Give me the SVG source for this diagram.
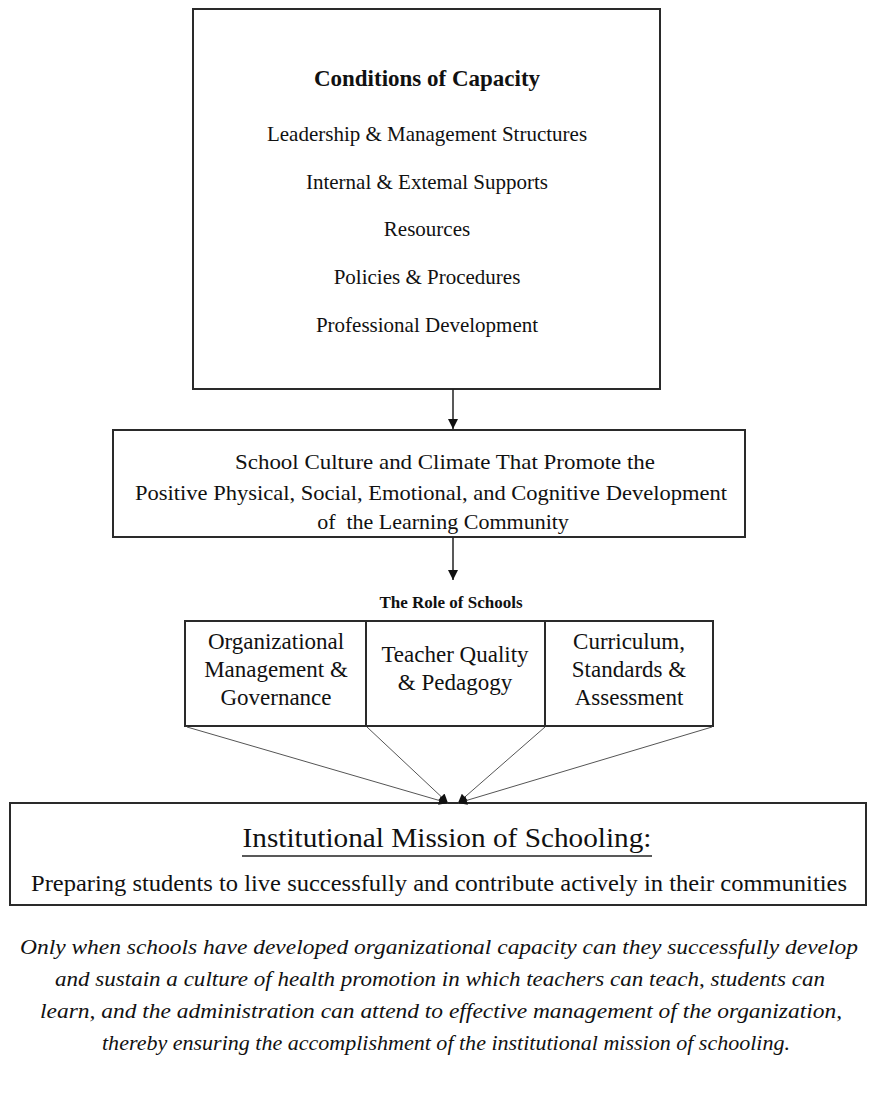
<svg xmlns="http://www.w3.org/2000/svg" width="878" height="1093" viewBox="0 0 878 1093">
<defs>
<style>
.box{fill:#fff;stroke:#2a2a2a;stroke-width:2}
.t{font-family:"Liberation Serif","Times New Roman",serif;fill:#111;text-anchor:middle}
.b{font-weight:bold}
.it{font-style:italic}
.conn{stroke:#555;stroke-width:1;fill:none}
.arr{stroke:#222;stroke-width:1.5;fill:none}
</style>
<marker id="ah" viewBox="0 0 10 10" refX="10" refY="5" markerWidth="12" markerHeight="10" markerUnits="userSpaceOnUse" orient="auto">
<path d="M0,0 L10,5 L0,10 z" fill="#111"/>
</marker>
<marker id="ah2" viewBox="0 0 10 10" refX="10" refY="5" markerWidth="14" markerHeight="9" markerUnits="userSpaceOnUse" orient="auto">
<path d="M0,0 L10,5 L0,10 z" fill="#111"/>
</marker>
</defs>
<rect width="878" height="1093" fill="#fff"/>

<g id="conditions">
<rect class="box" x="193" y="9" width="467" height="380"/>
<text class="t b" x="427" y="86" font-size="23">Conditions of Capacity</text>
<text class="t" x="427" y="141" font-size="21">Leadership &amp; Management Structures</text>
<text class="t" x="427" y="189" font-size="21">Internal &amp; Extemal Supports</text>
<text class="t" x="427" y="236" font-size="21">Resources</text>
<text class="t" x="427" y="284" font-size="21">Policies &amp; Procedures</text>
<text class="t" x="427" y="332" font-size="21">Professional Development</text>
</g>

<g id="culture">
<rect class="box" x="113" y="430" width="632" height="107"/>
<text class="t" x="445" y="469" font-size="22" textLength="420" lengthAdjust="spacingAndGlyphs">School Culture and Climate That Promote the</text>
<text class="t" x="431" y="500" font-size="22" textLength="592" lengthAdjust="spacingAndGlyphs">Positive Physical, Social, Emotional, and Cognitive Development</text>
<text class="t" x="443" y="529" font-size="22" xml:space="preserve">of  the Learning Community</text>
</g>

<g id="role-label">
<text class="t b" x="451" y="608" font-size="17">The Role of Schools</text>
</g>

<g id="org">
<rect class="box" x="185" y="621" width="181" height="105"/>
<text class="t" x="276" y="649" font-size="23">Organizational</text>
<text class="t" x="276" y="677" font-size="23">Management &amp;</text>
<text class="t" x="276" y="705" font-size="23">Governance</text>
</g>
<g id="teacher">
<rect class="box" x="366" y="621" width="179" height="105"/>
<text class="t" x="455" y="662" font-size="23">Teacher Quality</text>
<text class="t" x="455" y="690" font-size="23">&amp; Pedagogy</text>
</g>
<g id="curriculum">
<rect class="box" x="545" y="621" width="168" height="105"/>
<text class="t" x="629" y="649" font-size="23">Curriculum,</text>
<text class="t" x="629" y="677" font-size="23">Standards &amp;</text>
<text class="t" x="629" y="705" font-size="23">Assessment</text>
</g>

<g id="mission">
<rect class="box" x="10" y="803" width="856" height="102"/>
<text class="t" x="447" y="847" font-size="28" textLength="409" lengthAdjust="spacingAndGlyphs">Institutional Mission of Schooling:</text>
<line x1="242" y1="856" x2="652" y2="856" stroke="#222" stroke-width="1.6"/>
<text class="t" x="439" y="891" font-size="23" textLength="816" lengthAdjust="spacingAndGlyphs">Preparing students to live successfully and contribute actively in their communities</text>
</g>

<g id="caption">
<text class="t it" x="439" y="954" font-size="22" textLength="838" lengthAdjust="spacingAndGlyphs">Only when schools have developed organizational capacity can they successfully develop</text>
<text class="t it" x="440" y="986" font-size="22" textLength="770" lengthAdjust="spacingAndGlyphs">and sustain a culture of health promotion in which teachers can teach, students can</text>
<text class="t it" x="441" y="1018" font-size="22" textLength="802" lengthAdjust="spacingAndGlyphs">learn, and the administration can attend to effective management of the organization,</text>
<text class="t it" x="446" y="1050" font-size="22" textLength="688" lengthAdjust="spacingAndGlyphs">thereby ensuring the accomplishment of the institutional mission of schooling.</text>
</g>

<g id="connectors">
<line class="arr" x1="453" y1="389" x2="453" y2="429" marker-end="url(#ah)"/>
<line class="arr" x1="453" y1="537" x2="453" y2="580" marker-end="url(#ah)"/>
<line class="conn" x1="187" y1="727" x2="448" y2="803" marker-end="url(#ah2)"/>
<line class="conn" x1="367" y1="727" x2="448" y2="803" marker-end="url(#ah2)"/>
<line class="conn" x1="545" y1="727" x2="458" y2="803" marker-end="url(#ah2)"/>
<line class="conn" x1="712" y1="727" x2="458" y2="803" marker-end="url(#ah2)"/>
</g>
</svg>
